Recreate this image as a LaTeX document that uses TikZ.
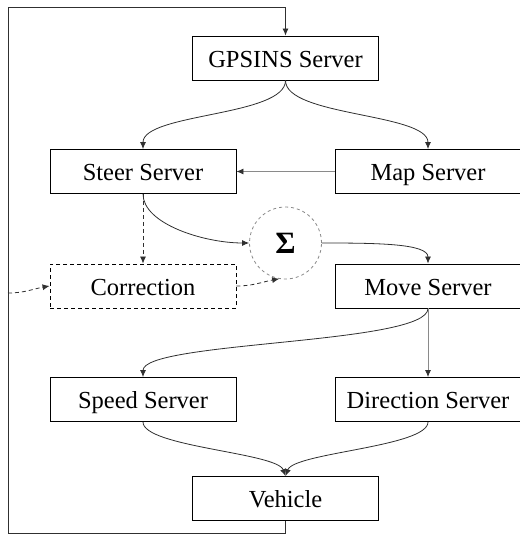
\documentclass[tikz,border=0pt]{standalone}
\usepackage{fontspec}
\setmainfont{Liberation Serif}
\usetikzlibrary{arrows.meta}
\definecolor{linegray}{HTML}{303030}
\definecolor{softgray}{HTML}{8A8A8A}
\tikzset{
  server/.style={draw=black, line width=0.9pt, minimum width=186pt, minimum height=44pt,
    inner sep=0pt, text height=18.6pt, text depth=0pt, font=\fontsize{24.5}{28}\selectfont},
  dashbox/.style={server, dashed, dash pattern=on 4pt off 3pt},
  link/.style={draw=linegray, line width=0.8pt, -{Latex[length=7pt,width=6pt,color=linegray]}},
  dlink/.style={link, dashed, dash pattern=on 4pt off 3pt},
  pale/.style={draw=softgray},
  sumnode/.style={circle, draw=softgray, line width=0.8pt, dashed, dash pattern=on 3pt off 3pt,
    minimum size=72pt, inner sep=0pt, font=\fontsize{31}{34}\selectfont\bfseries}
}
\begin{document}
\begin{tikzpicture}[x=1pt, y=-1pt]
  \useasboundingbox (0,0) rectangle (519,534);

  % processing blocks
  \node[server] (gps)  at (285.5, 58)  {GPSINS Server};
  \node[server] (steer) at (143, 171.5) {Steer Server};
  \node[server] (map)  at (428, 171.5) {Map Server};
  \node[dashbox] (corr) at (143, 286)  {Correction};
  \node[sumnode] (sum) at (285.5, 243) {Σ};
  \node[server] (move) at (428, 286)   {Move Server};
  \node[server] (speed) at (143, 399.5) {Speed Server};
  \node[server] (dir)  at (428, 399.5) {Direction Server};
  \node[server] (veh)  at (285.5, 498.5) {Vehicle};

  % feedback loop corners
  \coordinate (fbA) at (285.5, 533);
  \coordinate (fbB) at (8, 533);
  \coordinate (fbC) at (8, 7);
  \coordinate (fbD) at (285.5, 7);
  \coordinate (fbTap) at (8, 293);

  % connectors
  \draw[link] (gps.south) to[out=-90, in=90, distance=36pt] (steer.north);
  \draw[link] (gps.south) to[out=-90, in=90, distance=36pt] (map.north);
  \draw[link, pale] (map.west) -- (steer.east);
  \draw[dlink] (steer.south) -- (corr.north);
  \draw[link] (steer.south) to[out=-90, in=180, out distance=30pt, in distance=45pt] (sum.west);
  \draw[link] (sum.east) to[out=0, in=90, out distance=55pt, in distance=20pt] (move.north);
  \draw[dlink] (corr.east) to[out=0, in=190] (sum.-100);
  \draw[dlink] (fbTap) to[out=0, in=190] (corr.west);
  \draw[link] (move.south) to[out=-90, in=90, distance=36pt] (speed.north);
  \draw[link, pale] (move.south) -- (dir.north);
  \draw[link] (speed.south) to[out=-90, in=110, out distance=25pt, in distance=25pt] (veh.north);
  \draw[link] (dir.south) to[out=-90, in=70, out distance=25pt, in distance=25pt] (veh.north);
  \draw[link] (veh.south) -- (fbA) -- (fbB) -- (fbC) -- (fbD) -- (gps.north);
\end{tikzpicture}
\end{document}
